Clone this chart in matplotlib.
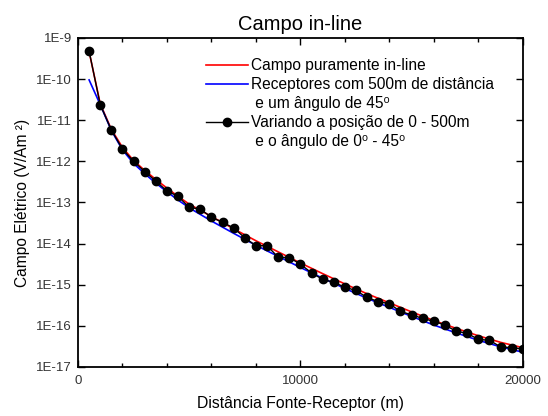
import numpy as np
import matplotlib
matplotlib.use('Agg')
from matplotlib import pyplot as plt
from matplotlib.lines import Line2D
from matplotlib.ticker import FixedLocator, FuncFormatter

plt.rcParams['font.family'] = ['Liberation Sans', 'DejaVu Sans']

# Varying position/angle (dots), every 500 m
dist_pts = np.arange(500, 20001, 500)
log_pts = [-9.32, -10.62, -11.24, -11.70, -12.00, -12.25, -12.48, -12.72, -12.85, -13.12,
           -13.16, -13.36, -13.48, -13.62, -13.86, -14.05, -14.05, -14.33, -14.34, -14.50,
           -14.71, -14.87, -14.94, -15.06, -15.14, -15.31, -15.41, -15.46, -15.65, -15.73,
           -15.82, -15.89, -15.98, -16.13, -16.18, -16.33, -16.35, -16.51, -16.53, -16.56]

# Purely in-line field (red) and receivers at 500 m / 45 deg (blue)
dist_curve = [500, 1000, 1500, 2000, 2500, 3000, 3500, 4000, 4500, 5000, 6000, 7000, 8000,
              9000, 10000, 11000, 12000, 13000, 14000, 15000, 16000, 17000, 18000, 19000, 20000]
log_red = [-9.33, -10.60, -11.22, -11.66, -11.98, -12.22, -12.44, -12.65, -12.85, -13.04,
           -13.34, -13.64, -13.93, -14.20, -14.47, -14.73, -14.98, -15.22, -15.44, -15.66,
           -15.87, -16.06, -16.24, -16.40, -16.53]
log_blue = [-10.02, -10.62, -11.25, -11.72, -12.05, -12.30, -12.53, -12.74, -12.94, -13.13,
            -13.45, -13.75, -14.04, -14.31, -14.58, -14.84, -15.09, -15.33, -15.55, -15.77,
            -15.98, -16.17, -16.35, -16.51, -16.64]

fig = plt.figure(figsize=(5.48, 4.16), dpi=100)
ax = fig.add_axes([0.1423, 0.1178, 0.8117, 0.7909])

ax.plot(dist_curve, 10.0 ** np.array(log_red), color='red', lw=1.2)
ax.plot(dist_curve, 10.0 ** np.array(log_blue), color='blue', lw=1.2)
ax.plot(dist_pts, 10.0 ** np.array(log_pts), color='black', lw=1.0,
        marker='o', ms=6)

ax.set_yscale('log')
ax.set_xlim(0, 20000)
ax.set_ylim(1e-17, 1e-9)

ax.yaxis.set_major_locator(FixedLocator([10.0 ** k for k in range(-17, -8)]))
ax.yaxis.set_minor_locator(FixedLocator([]))
ax.yaxis.set_major_formatter(FuncFormatter(lambda v, p: '1E%d' % round(np.log10(v))))
ax.xaxis.set_major_locator(FixedLocator([0, 10000, 20000]))
ax.xaxis.set_minor_locator(FixedLocator(np.arange(0, 20001, 2000)))

ax.tick_params(which='both', direction='in', top=True, right=True,
               labelsize=9.5, labelcolor='#333333', width=1.0)
ax.tick_params(which='major', length=5)
ax.tick_params(which='minor', length=3)
ax.tick_params(axis='x', pad=6)
ax.tick_params(axis='y', pad=4.5)
for s in ax.spines.values():
    s.set_linewidth(1.3)

ax.set_title('Campo in-line', fontsize=14.5, pad=6)
ax.set_xlabel('Distância Fonte-Receptor (m)', fontsize=11.3, labelpad=6)
ax.set_ylabel('Campo Elétrico (V/Am ²)', fontsize=11.2, labelpad=4)

blank = Line2D([], [], color='none')
handles = [Line2D([], [], color='red', lw=1.2),
           Line2D([], [], color='blue', lw=1.2),
           blank,
           Line2D([], [], color='black', lw=1.0, marker='o', ms=6),
           blank]
labels = ['Campo puramente in-line',
          'Receptores com 500m de distância',
          ' e um ângulo de 45⁰',
          'Variando a posição de 0 - 500m',
          ' e o ângulo de 0⁰ - 45⁰']
ax.legend(handles, labels, loc='upper left', bbox_to_anchor=(0.2876, 0.938),
          frameon=False, fontsize=11.2, handlelength=2.7, handletextpad=0.2,
          labelspacing=0.25, borderpad=0, borderaxespad=0)

fig.savefig('out.png', dpi=100)
